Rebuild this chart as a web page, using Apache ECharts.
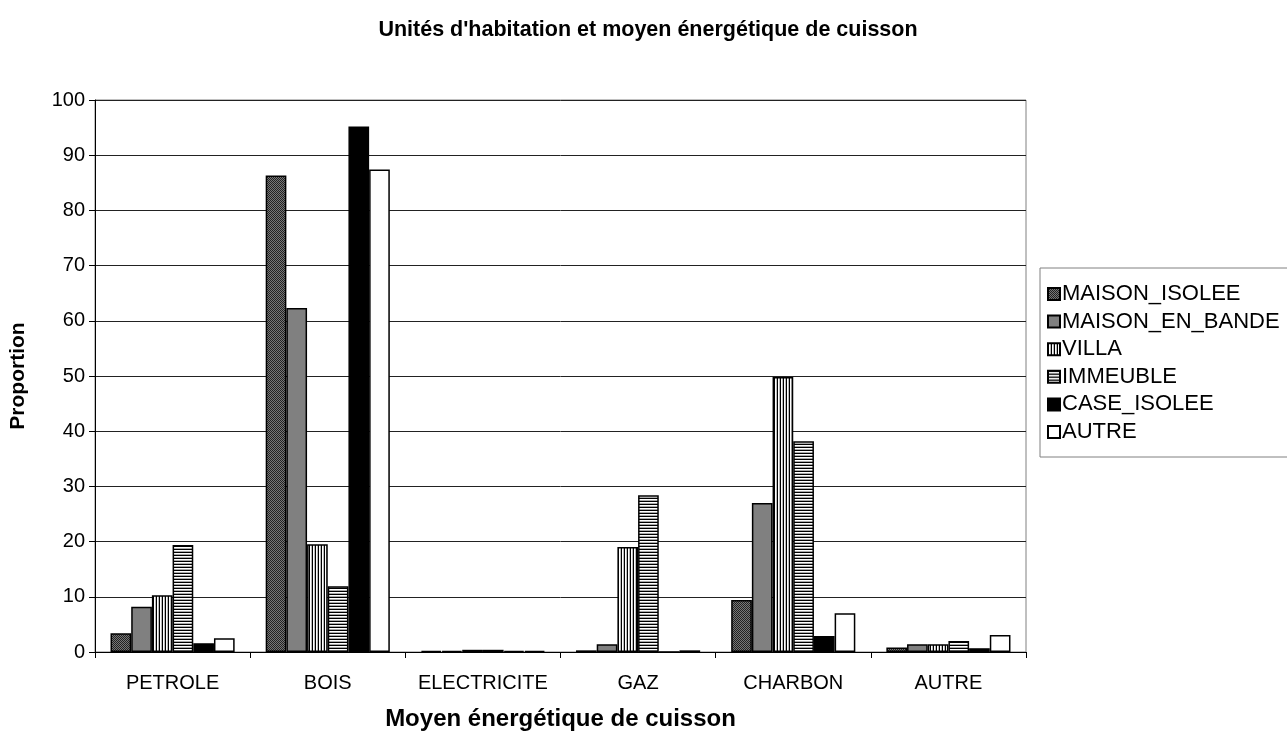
<!DOCTYPE html>
<html>
<head>
<meta charset="utf-8">
<script src="https://cdn.jsdelivr.net/npm/echarts@6/dist/echarts.min.js"></script>
<style>
  html, body { margin: 0; padding: 0; background: #fff; }
  #chart { width: 1287px; height: 731px; }
</style>
</head>
<body>
<div id="chart"></div>
<script>
const categories = ['PETROLE', 'BOIS', 'ELECTRICITE', 'GAZ', 'CHARBON', 'AUTRE'];
const seriesNames = ['MAISON_ISOLEE', 'MAISON_EN_BANDE', 'VILLA', 'IMMEUBLE', 'CASE_ISOLEE', 'AUTRE'];

const maisonIsolee = [3.4, 86.3, 0.2, 0.3, 9.4, 0.8];
const maisonEnBande = [8.2, 62.3, 0.2, 1.4, 27.0, 1.4];
const villa = [10.3, 19.5, 0.4, 19.0, 49.8, 1.4];
const immeuble = [19.4, 11.9, 0.4, 28.4, 38.2, 2.0];
const caseIsolee = [1.6, 95.2, 0.2, 0, 2.9, 0.7];
const autre = [2.5, 87.4, 0.2, 0.3, 7.0, 3.1];

const values = [maisonIsolee, maisonEnBande, villa, immeuble, caseIsolee, autre];

// small canvas fills that mimic the old print patterns
function makePattern(w, h, draw) {
  const c = document.createElement('canvas');
  c.width = w;
  c.height = h;
  draw(c.getContext('2d'));
  return { image: c, repeat: 'repeat' };
}

const checker = makePattern(2, 2, (g) => {
  g.fillStyle = '#777'; g.fillRect(0, 0, 2, 2);
  g.fillStyle = '#222'; g.fillRect(0, 0, 1, 1); g.fillRect(1, 1, 1, 1);
});
const vStripes = makePattern(3, 1, (g) => {
  g.fillStyle = '#000'; g.fillRect(0, 0, 1, 1);
  g.fillStyle = '#fff'; g.fillRect(1, 0, 1, 1);
  g.fillStyle = '#bbb'; g.fillRect(2, 0, 1, 1);
});
const hStripes = makePattern(1, 3, (g) => {
  g.fillStyle = '#000'; g.fillRect(0, 0, 1, 1);
  g.fillStyle = '#fff'; g.fillRect(0, 1, 1, 1);
  g.fillStyle = '#aaa'; g.fillRect(0, 2, 1, 1);
});

const fills = [checker, '#808080', vStripes, hStripes, '#000000', '#ffffff'];

const font = 'Liberation Sans, Arial, sans-serif';
const chart = echarts.init(document.getElementById('chart'), null, { renderer: 'canvas' });

chart.setOption({
  animation: false,
  backgroundColor: '#fff',
  textStyle: { fontFamily: font, color: '#000' },
  title: {
    text: "Unités d'habitation et moyen énergétique de cuisson",
    left: 643,
    top: 14,
    textAlign: 'center',
    textStyle: { fontFamily: font, fontSize: 21.5, fontWeight: 'bold', color: '#000' },
  },
  legend: {
    orient: 'vertical',
    left: 1040,
    top: 268,
    padding: [15, 40, 14, 7],
    borderColor: '#808080',
    borderWidth: 1,
    itemWidth: 12,
    itemHeight: 12,
    itemGap: 5.6,
    icon: 'rect',
    textStyle: { fontFamily: font, fontSize: 22, color: '#000', padding: [0, 0, 0, -3] },
    data: seriesNames,
  },
  grid: {
    left: 95,
    top: 100,
    width: 931,
    height: 552,
    show: true,
    borderColor: '#808080',
    borderWidth: 1,
    containLabel: false,
    outerBoundsMode: 'none',
  },
  xAxis: {
    type: 'category',
    data: categories,
    name: 'Moyen énergétique de cuisson',
    nameLocation: 'middle',
    nameGap: 55,
    nameTextStyle: { fontFamily: font, fontSize: 24, fontWeight: 'bold', color: '#000' },
    axisLine: { lineStyle: { color: '#000', width: 1 } },
    axisTick: { show: true, length: 6, lineStyle: { color: '#000' } },
    axisLabel: { fontFamily: font, fontSize: 20, color: '#000', margin: 21, interval: 0 },
  },
  yAxis: {
    type: 'value',
    min: 0,
    max: 100,
    interval: 10,
    name: 'Proportion',
    nameLocation: 'middle',
    nameGap: 66,
    nameTextStyle: { fontFamily: font, fontSize: 21, fontWeight: 'bold', color: '#000' },
    axisLine: { show: true, lineStyle: { color: '#000', width: 1 } },
    axisTick: { show: true, length: 6, lineStyle: { color: '#000' } },
    axisLabel: { fontFamily: font, fontSize: 20, color: '#000', margin: 10 },
    splitLine: { show: true, lineStyle: { color: '#222', width: 1 } },
  },
  series: seriesNames.map((name, i) => ({
    name: name,
    type: 'bar',
    data: values[i],
    barGap: '0%',
    barCategoryGap: '20%',
    itemStyle: { color: fills[i], borderColor: '#000', borderWidth: 1.5 },
  })),
});
</script>
</body>
</html>
